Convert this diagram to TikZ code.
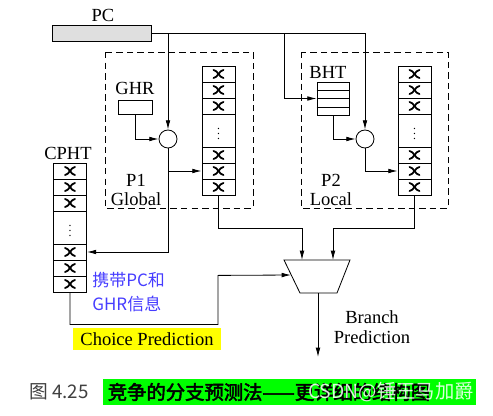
\documentclass[tikz,border=0pt]{standalone}
\usepackage{fontspec}
\setmainfont{Liberation Serif}
\newfontfamily\cjk{Noto Sans CJK SC}
\newfontfamily\cjkb[FakeBold=2.5]{Noto Sans CJK SC}
\usepackage{xcolor}
\usepackage{tikz}
\usetikzlibrary{arrows.meta, positioning, calc}
\definecolor{notecol}{RGB}{70,60,255}
\definecolor{capgreen}{RGB}{0,255,0}
\definecolor{capyellow}{RGB}{255,255,0}
\tikzstyle{cell} = [rectangle, draw = black, minimum width = 0.99cm, minimum height = 0.48cm, inner sep = 0pt]
\tikzstyle{arr} = [-{Latex[length=2.8mm, width=1.4mm]}]
\tikzstyle{lbl} = [font = \fontsize{15.8}{17}\selectfont, inner sep = 0pt]
\tikzset{cnt/.pic = {
  \draw[line width = 1.5pt, line cap = round] (-5,-4) .. controls (-1,-4) and (1,4) .. (5,4);
  \draw[line width = 1.5pt, line cap = round] (-5,4) .. controls (-1,4) and (1,-4) .. (5,-4);
}}
% counter table: name, x, top
\newcommand{\predtable}[3]{%
  \foreach \n/\dy in {1/8, 2/24, 3/40, 5/89, 6/105, 7/121}{
    \node[cell] (#1-\n) at (#2, #3+\dy) {};
    \pic at (#1-\n) {cnt};
  }
  \node[cell, minimum height = 0.99cm] (#1-4) at (#2, #3+64.5) {$\vdots$};
}

\begin{document}
\begin{tikzpicture}[x = 0.03cm, y = -0.03cm, line width = 0.7pt]
\useasboundingbox (0,0) rectangle (493,416);

% PC register
\node (pc) [rectangle, draw = black, fill = gray!25, minimum width = 2.97cm, minimum height = 0.48cm] at (101.5,33) {};
\node (pclab) [lbl] at (103,15) {PC};

% P1 global part
\draw[dashed, dash pattern = on 5.5pt off 3.5pt] (105,52) rectangle (253,208);
\node (ghr) [rectangle, draw = black, minimum width = 1.02cm, minimum height = 0.42cm] at (135,107) {};
\node (ghrlab) [lbl] at (135,88) {GHR};
\node (g1) [circle, draw = black, minimum size = 0.54cm, inner sep = 0pt] at (168,139) {};
\predtable{p1}{218.5}{66}
\node (p1lab) [lbl, align = center] at (136,190) {P1\\Global};

% P2 local part
\draw[dashed, dash pattern = on 5.5pt off 3.5pt] (301,52) rectangle (448,208);
\node (bht) [rectangle, draw = black, minimum width = 0.96cm, minimum height = 0.99cm] at (333,98.5) {};
\foreach \f in {0.25, 0.5, 0.75}
  \draw ($(bht.north west)!\f!(bht.south west)$) -- ($(bht.north east)!\f!(bht.south east)$);
\node (bhtlab) [lbl] at (328,72) {BHT};
\node (g2) [circle, draw = black, minimum size = 0.54cm, inner sep = 0pt] at (365,139) {};
\predtable{p2}{414.5}{66}
\node (p2lab) [lbl, align = center] at (331,190) {P2\\Local};

% choice table
\predtable{cp}{70}{163}
\node (cplab) [lbl] at (68,153) {CPHT};
\node (cpnote) [anchor = west, align = left, text = notecol, inner sep = 0pt, font = \cjk\fontsize{14.5}{20}\selectfont] at (92,292) {携带PC和\\GHR信息};

% selector
\draw (284,260) -- (350,260) -- (337,293) -- (300,293) -- cycle;
\coordinate (mux-in1) at (302,260);
\coordinate (mux-in2) at (333,260);
\coordinate (mux-sel) at (291,275);
\coordinate (mux-out) at (318,293);
\coordinate (pcbht) at (284,33);

% connections
\draw[arr] (pc.east) -| (g2.north);
\draw[arr] (g1 |- pc.east) -- (g1.north);
\draw[arr] (pcbht) |- (bht.west);
\draw[arr] (ghr.south) |- (g1.west);
\draw[arr] (bht.south) |- (g2.west);
\draw[arr] (g1.south) |- (p1-6.west);
\draw[arr] (g1.south) |- (cp-5.east);
\draw[arr] (g2.south) |- (p2-6.west);
\draw[arr] (p1-7.south) -- ++(0,33) -| (mux-in1);
\draw[arr] (p2-7.south) -- ++(0,33) -| (mux-in2);
\draw[arr] (cp-7.south) -- ++(0,32) -| ++(148,-49) -- (mux-sel);
\draw[arr] (mux-out) -- ++(0,64);

\node (bplab) [lbl, align = center] at (372,327) {Branch\\Prediction};
\node (choice) [rectangle, fill = capyellow, minimum width = 4.44cm, minimum height = 0.66cm, font = \fontsize{15.8}{17}\selectfont] at (147,339) {Choice Prediction};

% caption
\node (capnum) [text = black!75, font = \cjk\fontsize{16}{18}\selectfont] at (59,392) {图 4.25};
\node (captxt) [rectangle, fill = capgreen, minimum width = 11.19cm, minimum height = 0.78cm, text width = 10.9cm, align = left, font = \cjkb\fontsize{16.5}{18}\selectfont] at (289.5,392) {竞争的分支预测法——更详细的结构图};
\node (wmark) [anchor = east, text = white, opacity = 0.85, font = \cjk\fontsize{16.5}{18}\selectfont] at (478,392) {CSDN@锤王马加爵};
\end{tikzpicture}
\end{document}
